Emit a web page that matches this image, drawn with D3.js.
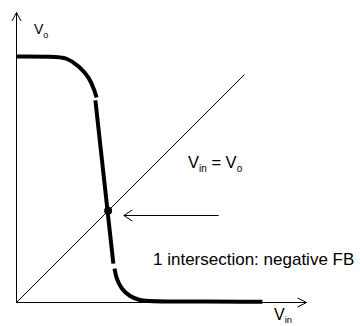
<!DOCTYPE html>
<html>
<head>
<meta charset="utf-8">
<script src="https://cdn.jsdelivr.net/npm/d3@7"></script>
<style>
  html, body { margin: 0; padding: 0; background: #fff; }
  svg { display: block; font-family: Arial, "Liberation Sans", sans-serif; }
</style>
</head>
<body>
<div id="chart"></div>
<script>
// Transfer curve Vo(Vin), drawn in three pieces (gaps as in the original)
const upperBranch = [[0, 8.48], [1.3, 8.48], [1.72, 8.45], [2.17, 8.15], [2.52, 7.74], [2.69, 7.31], [2.76, 7.07]];
const middleBranch = [[2.72, 6.97], [3.34, 1.34]];
const lowerBranch = [[3.38, 1.17], [3.44, 0.83], [3.61, 0.48], [3.9, 0.21], [4.24, 0.07], [4.64, 0.03], [8.48, 0.03]];

// Vin = Vo line and the single crossing point
const identityLine = [[0, 0], [7.86, 7.86]];
const intersection = [3.16, 3.16];
const pointerArrow = [[6.97, 3.0], [3.7, 3.0]];

const axisMax = 10;

const width = 360;
const height = 326;

const x = d3.scaleLinear().domain([0, axisMax]).range([16.5, 306.5]);
const y = d3.scaleLinear().domain([0, axisMax]).range([302.5, 12.5]);

const svg = d3.select('#chart')
    .append('svg')
    .attr('width', width)
    .attr('height', height);

const ink = '#000';

// Axes with open arrow heads
svg.append('line')
    .attr('x1', x(0)).attr('y1', y(0))
    .attr('x2', x(0)).attr('y2', y(axisMax))
    .attr('stroke', ink).attr('stroke-width', 1);
svg.append('path')
    .attr('d', `M${x(0) - 4.5},${y(axisMax) + 8.5}L${x(0)},${y(axisMax)}L${x(0) + 4.5},${y(axisMax) + 8.5}`)
    .attr('fill', 'none').attr('stroke', ink).attr('stroke-width', 1);

svg.append('line')
    .attr('x1', x(0)).attr('y1', y(0))
    .attr('x2', x(axisMax)).attr('y2', y(0))
    .attr('stroke', ink).attr('stroke-width', 1);
svg.append('path')
    .attr('d', `M${x(axisMax) - 9},${y(0) - 4.5}L${x(axisMax)},${y(0)}L${x(axisMax) - 9},${y(0) + 4.5}`)
    .attr('fill', 'none').attr('stroke', ink).attr('stroke-width', 1);

// Vin = Vo
const line = d3.line().x(d => x(d[0])).y(d => y(d[1]));
svg.append('path')
    .attr('d', line(identityLine))
    .attr('fill', 'none').attr('stroke', ink).attr('stroke-width', 1);

// transfer curve
const curve = d3.line()
    .x(d => x(d[0]))
    .y(d => y(d[1]))
    .curve(d3.curveBasis);

[upperBranch, middleBranch, lowerBranch].forEach(branch => {
    svg.append('path')
        .attr('d', curve(branch))
        .attr('fill', 'none')
        .attr('stroke', ink)
        .attr('stroke-width', 4);
});

svg.append('circle')
    .attr('cx', x(intersection[0]))
    .attr('cy', y(intersection[1]))
    .attr('r', 4)
    .attr('fill', ink);

// pointer arrow to the intersection
const tip = pointerArrow[1];
svg.append('path')
    .attr('d', line(pointerArrow))
    .attr('fill', 'none').attr('stroke', ink).attr('stroke-width', 1);
svg.append('path')
    .attr('d', `M${x(tip[0]) + 8.5},${y(tip[1]) - 5.5}L${x(tip[0])},${y(tip[1])}L${x(tip[0]) + 8.5},${y(tip[1]) + 5.5}`)
    .attr('fill', 'none').attr('stroke', ink).attr('stroke-width', 1);

// labels with subscripts
function subLabel(px, py, size, parts) {
    const t = svg.append('text')
        .attr('x', px)
        .attr('y', py)
        .attr('fill', ink)
        .style('font-size', size + 'px');
    parts.forEach(p => {
        t.append('tspan')
            .text(p.text)
            .attr('dy', p.dy || 0)
            .style('font-size', (p.size || size) + 'px');
    });
    return t;
}

subLabel(34, 33.5, 14, [
    { text: 'V' },
    { text: 'o', size: 9, dy: 4 }
]);

subLabel(188, 168, 16.5, [
    { text: 'V' },
    { text: 'in', size: 10, dy: 3.5 },
    { text: ' = V', dy: -3.5 },
    { text: 'o', size: 10, dy: 3.5 }
]);

subLabel(274, 320, 16, [
    { text: 'V' },
    { text: 'in', size: 9.5, dy: 2.5 }
]);

svg.append('text')
    .attr('x', 153)
    .attr('y', 265)
    .attr('fill', ink)
    .style('font-size', '17px')
    .text('1 intersection: negative FB');
</script>
</body>
</html>
